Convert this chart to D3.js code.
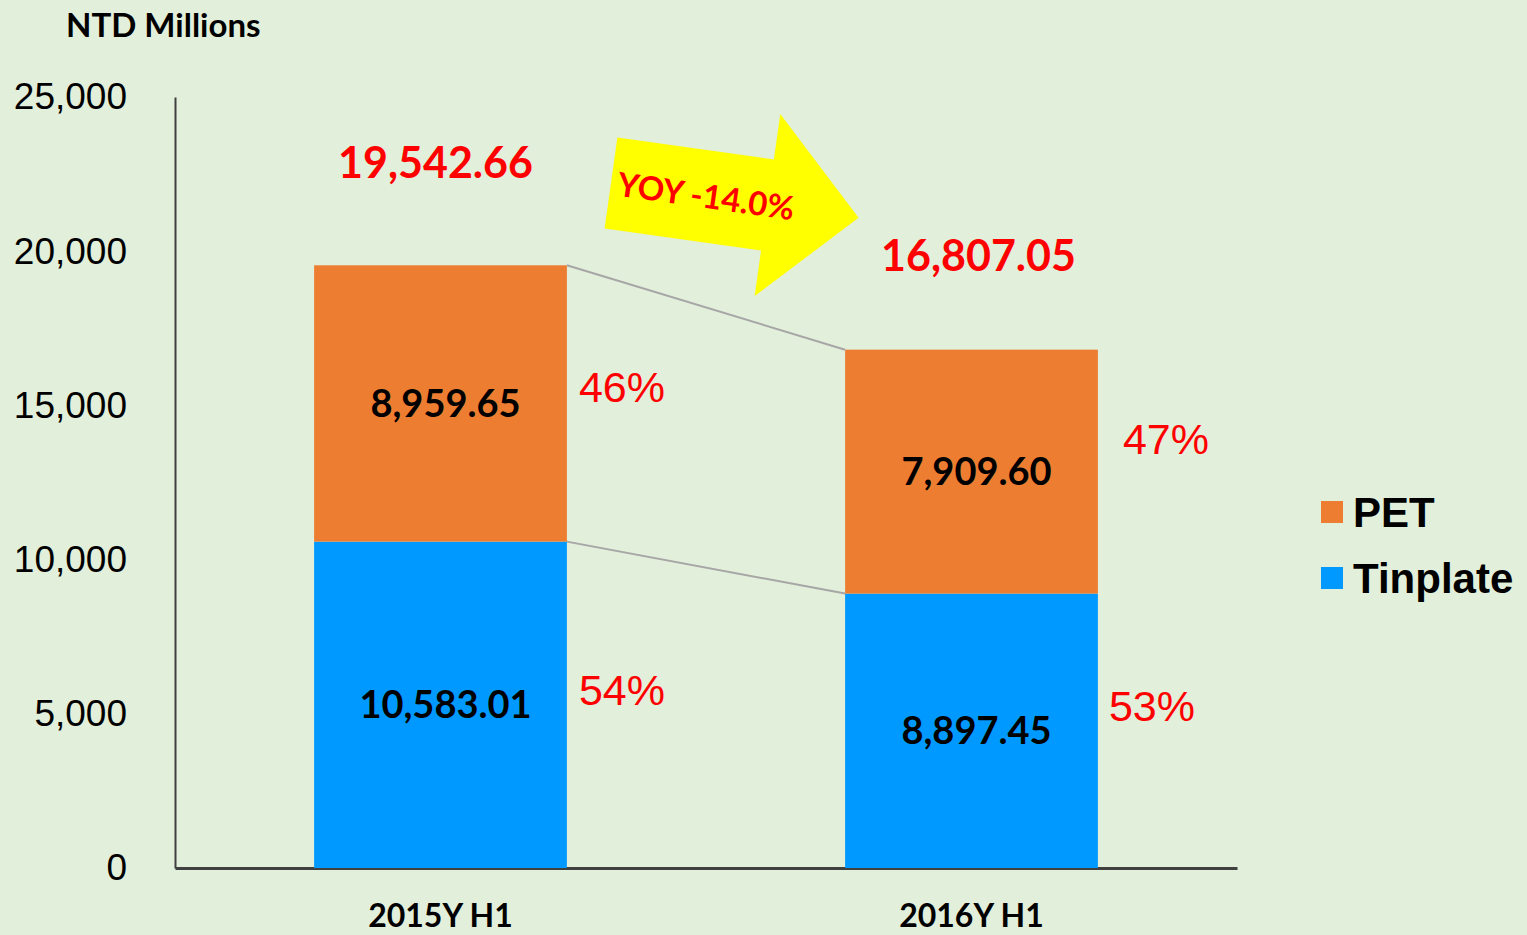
<!DOCTYPE html>
<html>
<head>
<meta charset="utf-8">
<script src="https://cdn.jsdelivr.net/npm/d3@7"></script>
<style>
  html, body { margin: 0; padding: 0; background: #e2efda; }
  svg { display: block; }
</style>
</head>
<body>
<svg id="chart" width="1527" height="935"></svg>
<script>
// chart data
const periods = ["2015Y H1", "2016Y H1"];
const tinplate = [10583.01, 8897.45];
const pet = [8959.65, 7909.60];
const totals = [19542.66, 16807.05];
const tinplatePct = ["54%", "53%"];
const petPct = ["46%", "47%"];
const yTicks = [0, 5000, 10000, 15000, 20000, 25000];
const yoyLabel = "YOY -14.0%";

const svg = d3.select("#chart");
const width = +svg.attr("width");
const height = +svg.attr("height");
const margin = {left: 175, right: 290, top: 97, bottom: 67};

const colors = {PET: "#ed7d31", Tinplate: "#0099ff"};

svg.append("rect")
    .attr("width", width)
    .attr("height", height)
    .attr("fill", "#e2efda");

const x = d3.scaleBand()
    .domain(periods)
    .range([margin.left, width - margin.right])
    .paddingInner(0.524)
    .paddingOuter(0.262);

const y = d3.scaleLinear()
    .domain([0, 25000])
    .range([height - margin.bottom, margin.top]);

// stacked data
const rows = periods.map((p, i) => ({period: p, Tinplate: tinplate[i], PET: pet[i]}));
const stack = d3.stack().keys(["Tinplate", "PET"]);
const series = stack(rows);

// y axis
const yAxis = d3.axisLeft(y)
    .tickValues(yTicks)
    .tickSize(0)
    .tickPadding(48)
    .tickFormat(d3.format(","));

const yg = svg.append("g")
    .attr("transform", `translate(${margin.left},0)`)
    .call(yAxis);
yg.select(".domain").attr("stroke", "#404040").attr("stroke-width", 2);
yg.selectAll("text")
    .attr("font-family", "Liberation Sans, Arial, sans-serif")
    .attr("font-size", 37)
    .attr("fill", "#000");

// x axis
const xAxis = d3.axisBottom(x).tickSize(0).tickPadding(36);
const xg = svg.append("g")
    .attr("transform", `translate(0,${y(0)})`)
    .call(xAxis);
xg.select(".domain").attr("stroke", "#404040").attr("stroke-width", 3);
xg.selectAll("text")
    .attr("font-family", "Lato, sans-serif")
    .attr("font-weight", "bold")
    .attr("font-size", 32)
    .attr("fill", "#000");

// connector lines between bars
series.forEach(s => {
    svg.append("line")
        .attr("x1", x(periods[0]) + x.bandwidth())
        .attr("y1", y(s[0][1]))
        .attr("x2", x(periods[1]))
        .attr("y2", y(s[1][1]))
        .attr("stroke", "#a6a6a6")
        .attr("stroke-width", 2);
});

// bars
svg.append("g")
    .selectAll("g")
    .data(series)
    .join("g")
    .attr("fill", d => colors[d.key])
    .selectAll("rect")
    .data(d => d)
    .join("rect")
    .attr("x", d => x(d.data.period))
    .attr("y", d => y(d[1]))
    .attr("width", x.bandwidth())
    .attr("height", d => y(d[0]) - y(d[1]));

// values inside segments
series.forEach(s => {
    svg.append("g")
        .selectAll("text")
        .data(s)
        .join("text")
        .attr("x", d => x(d.data.period) + x.bandwidth() / 2 + 5)
        .attr("y", d => (y(d[0]) + y(d[1])) / 2)
        .attr("dy", "0.35em")
        .attr("text-anchor", "middle")
        .attr("font-family", "Lato, sans-serif")
        .attr("font-weight", "bold")
        .attr("font-size", 38)
        .attr("fill", "#000")
        .text(d => d3.format(",.2f")(d[1] - d[0]));
});

// percentage labels next to bars (offset from bar edge / segment middle)
const pctNudge = {
    PET: [[12, -17], [25, -33]],
    Tinplate: [[12, -15], [11, -25]]
};
series.forEach(s => {
    const labels = s.key === "PET" ? petPct : tinplatePct;
    svg.append("g")
        .selectAll("text")
        .data(s)
        .join("text")
        .attr("x", (d, i) => x(d.data.period) + x.bandwidth() + pctNudge[s.key][i][0])
        .attr("y", (d, i) => (y(d[0]) + y(d[1])) / 2 + pctNudge[s.key][i][1])
        .attr("dy", "0.35em")
        .attr("font-family", "Liberation Sans, Arial, sans-serif")
        .attr("font-size", 43)
        .attr("fill", "#ff0000")
        .text((d, i) => labels[i]);
});

// totals above bars
svg.append("g")
    .selectAll("text")
    .data(totals)
    .join("text")
    .attr("x", (d, i) => x(periods[i]) + x.bandwidth() / 2 + (i === 0 ? -5 : 7))
    .attr("y", (d, i) => y(d) - (i === 0 ? 102 : 94))
    .attr("dy", "0.35em")
    .attr("text-anchor", "middle")
    .attr("font-family", "Lato, sans-serif")
    .attr("font-weight", "bold")
    .attr("font-size", 43)
    .attr("fill", "#ff0000")
    .text(d => d3.format(",.2f")(d));

// yoy arrow
const arrow = svg.append("g")
    .attr("transform", "translate(611,183) rotate(8)");
arrow.append("path")
    .attr("d", "M0,-46 L158,-46 L158,-92 L250,0 L158,92 L158,46 L0,46 Z")
    .attr("fill", "#ffff00");
arrow.append("text")
    .attr("x", 96)
    .attr("y", 0)
    .attr("dy", "0.35em")
    .attr("text-anchor", "middle")
    .attr("font-family", "Lato, sans-serif")
    .attr("font-weight", "bold")
    .attr("font-size", 33)
    .attr("fill", "#ff0000")
    .text(yoyLabel);

// unit label
svg.append("text")
    .attr("x", 66)
    .attr("y", 25)
    .attr("dy", "0.35em")
    .attr("font-family", "Lato, sans-serif")
    .attr("font-weight", "bold")
    .attr("font-size", 33)
    .attr("fill", "#000")
    .text("NTD Millions");

// legend
const legend = svg.append("g")
    .attr("transform", "translate(1321,512)");
const legendItems = legend.selectAll("g")
    .data(["PET", "Tinplate"])
    .join("g")
    .attr("transform", (d, i) => `translate(0,${i * 66})`);
legendItems.append("rect")
    .attr("x", 0)
    .attr("y", -11)
    .attr("width", 22)
    .attr("height", 22)
    .attr("fill", d => colors[d]);
legendItems.append("text")
    .attr("x", 32)
    .attr("y", 0)
    .attr("dy", "0.35em")
    .attr("font-family", "Liberation Sans, Arial, sans-serif")
    .attr("font-weight", "bold")
    .attr("font-size", 42)
    .attr("fill", "#000")
    .text(d => d);
</script>
</body>
</html>
